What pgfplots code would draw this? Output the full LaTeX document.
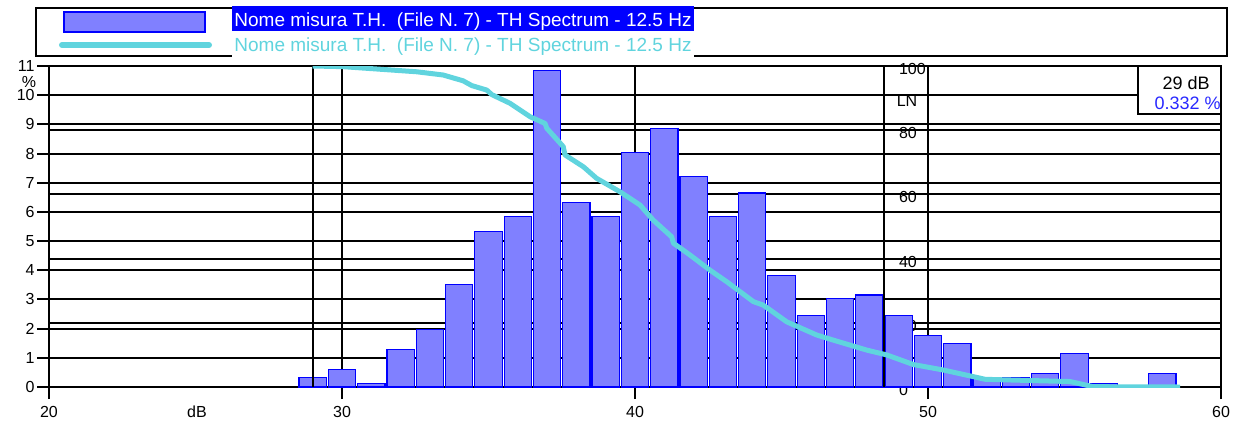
\documentclass[border=0pt]{standalone}
\usepackage{pgfplots}
\pgfplotsset{compat=1.18}
\usepackage{pgfplotstable}
\usepackage{fontspec}
\setmainfont{Liberation Sans}

\definecolor{barfill}{RGB}{128,128,255}
\definecolor{barline}{RGB}{0,0,255}
\definecolor{lncyan}{RGB}{96,212,222}
\definecolor{valblue}{RGB}{40,40,255}

% level distribution, % of time per 1 dB class
\pgfplotstableread{
db pct
29 0.332
30 0.60
31 0.12
32 1.29
33 1.97
34 3.50
35 5.33
36 5.83
37 10.84
38 6.31
39 5.83
40 8.03
41 8.85
42 7.20
43 5.83
44 6.65
45 3.83
46 2.44
47 3.02
48 3.15
49 2.46
50 1.77
51 1.49
52 0.32
53 0.32
54 0.46
55 1.15
56 0.12
58 0.46
}\bars

% LN curve (right scale)
\pgfplotstableread{
db ln
29.00 100.0
30.03 99.8
32.55 98.2
33.45 97.2
34.13 95.4
34.43 93.9
34.94 92.5
35.11 91.1
35.73 88.4
36.42 84.2
36.93 82.1
36.99 80.6
37.55 74.9
37.61 72.3
38.24 68.6
38.69 65.0
39.49 60.8
40.17 56.7
40.62 52.0
41.25 46.8
41.31 44.8
41.88 41.1
42.56 36.4
43.13 32.8
44.04 26.6
44.38 25.5
45.18 20.3
46.20 16.2
46.77 14.6
47.91 11.5
48.59 10.0
49.50 7.0
50.52 5.3
51.66 3.0
51.95 2.4
53.58 2.0
54.85 1.7
55.63 0.1
58.60 0.0
}\lncurve

\pgfplotsset{
  base/.style={
    scale only axis, width=586pt, height=160.5pt,
    xmin=20, xmax=60, at={(0,0)}, anchor=south west,
    /pgf/number format/assume math mode=true,
    ticklabel style={font=\fontsize{8}{9}\selectfont},
    grid style={black, line width=1pt},
  },
}

\begin{document}
\begin{tikzpicture}
\useasboundingbox (-24.5pt,-19pt) rectangle (592.5pt,193.5pt);

% LN scale: grid and labels lie under the bars
\begin{axis}[base, ymin=0, ymax=100, ytick={0,20,...,100}, xtick=\empty,
  ymajorgrids, axis line style={draw=none}, major tick length=0pt,
  yticklabel pos=right,
  yticklabel style={anchor=west, xshift=-164.5pt, yshift=-1.5pt}]
\end{axis}

% % scale with the histogram
\begin{axis}[base, ymin=0, ymax=11, ytick={0,...,11}, xtick={20,30,40,50,60},
  ymajorgrids, xmajorgrids,
  axis line style={line width=1.2pt},
  tick style={black, line width=1pt}, tick align=outside, major tick length=6pt,
  xtick pos=bottom, ytick pos=left,
  yticklabel style={inner xsep=1pt},
  xticklabel style={yshift=-0.3pt}]
\addplot[ybar, bar width=0.93, bar shift=0pt, fill=barfill, draw=barline,
  line width=0.6pt] table[x=db, y=pct] {\bars};
\draw[line width=1.2pt] (axis cs:29,0) -- (axis cs:29,11);
\draw[line width=1.2pt] (axis cs:48.5,0) -- (axis cs:48.5,11);
\end{axis}

% LN curve on top
\begin{axis}[base, ymin=0, ymax=100, hide axis]
\addplot[lncyan, line width=2.5pt, line join=round] table[x=db, y=ln] {\lncurve};
\end{axis}

% axis texts
\node[font=\fontsize{8}{9}\selectfont, inner sep=0pt] at (-10pt,152.5pt) {\%};
\node[font=\fontsize{8}{9}\selectfont] at (429pt,143pt) {LN};
\node[font=\fontsize{8}{9}\selectfont] at (74pt,-12.5pt) {dB};

% cursor readout
\draw[fill=white, line width=1pt] (544.5pt,160.5pt) rectangle (586pt,136.5pt);
\node[anchor=east, inner sep=0pt, font=\fontsize{9}{10}\selectfont] at (580.5pt,152pt) {29 dB};
\node[anchor=east, inner sep=0pt, text=valblue, font=\fontsize{9}{10}\selectfont] at (586pt,142pt) {0.332 \%};

% legend
\draw[line width=1.2pt] (-6.5pt,165.5pt) rectangle (589pt,189.5pt);
\draw[fill=barfill, draw=barline, line width=0.8pt] (7.5pt,177.5pt) rectangle (78pt,187.5pt);
\node[anchor=west, fill=barline, text=white, inner xsep=1pt, minimum height=11.5pt,
  font=\fontsize{9.5}{11}\selectfont] at (91.5pt,182.75pt)
  {Nome misura T.H.\ \ (File N. 7) - TH Spectrum - 12.5 Hz};
\draw[lncyan, line width=3pt, line cap=round] (6.5pt,171pt) -- (80pt,171pt);
\node[anchor=west, fill=white, text=lncyan, inner xsep=1pt, minimum height=12pt,
  font=\fontsize{9.5}{11}\selectfont] at (91.5pt,170.3pt)
  {Nome misura T.H.\ \ (File N. 7) - TH Spectrum - 12.5 Hz};
\end{tikzpicture}
\end{document}
